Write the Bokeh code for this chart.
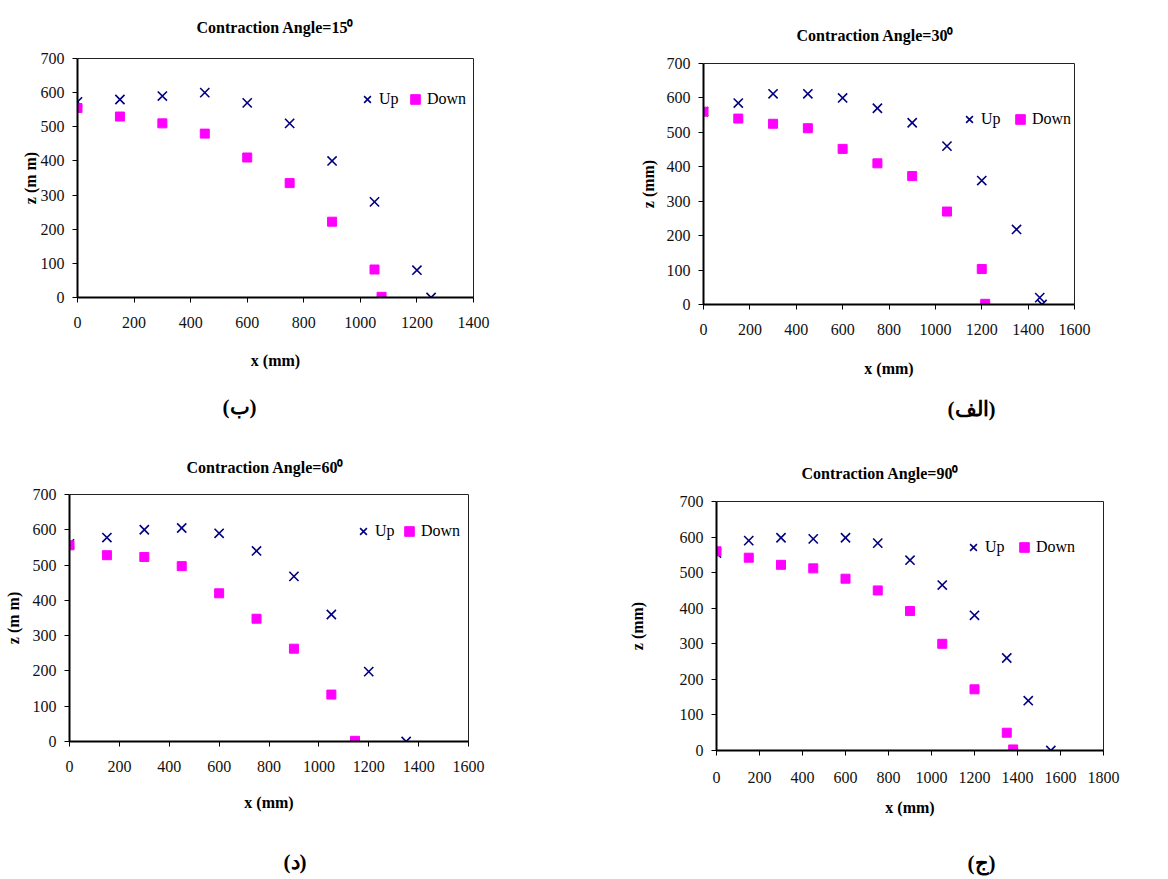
from bokeh.plotting import figure
from bokeh.layouts import column, row
from bokeh.models import (Range1d, FixedTicker, Title, Legend, LegendItem,
                          LinearAxis)
from bokeh.embed import file_html
from bokeh.resources import INLINE

# ---------------- data ----------------
# Contraction angle 15 deg  (ب)
x15_up = [0, 150, 300, 450, 600, 750, 900, 1050, 1200, 1250]
z15_up = [573, 580, 590, 600, 570, 510, 400, 280, 80, 0]
x15_down = [0, 150, 300, 450, 600, 750, 900, 1050, 1075]
z15_down = [555, 530, 510, 480, 410, 335, 222, 82, 2]

# Contraction angle 30 deg  (الف)
x30_up = [0, 150, 300, 450, 600, 750, 900, 1050, 1200, 1350, 1450, 1460]
z30_up = [560, 585, 612, 612, 600, 570, 528, 460, 360, 218, 20, 0]
x30_down = [0, 150, 300, 450, 600, 750, 900, 1050, 1200, 1215]
z30_down = [560, 540, 525, 512, 452, 410, 373, 270, 103, 2]

# Contraction angle 60 deg  (د)
x60_up = [0, 150, 300, 450, 600, 750, 900, 1050, 1200, 1350]
z60_up = [560, 578, 600, 605, 590, 540, 468, 360, 198, 0]
x60_down = [0, 150, 300, 450, 600, 750, 900, 1050, 1145]
z60_down = [556, 528, 523, 497, 420, 348, 263, 133, 2]

# Contraction angle 90 deg  (ج)
x90_up = [0, 150, 300, 450, 600, 750, 900, 1050, 1200, 1350, 1450, 1555]
z90_up = [555, 590, 598, 595, 598, 583, 535, 465, 380, 260, 140, 0]
x90_down = [0, 150, 300, 450, 600, 750, 900, 1050, 1200, 1350, 1380]
z90_down = [560, 542, 522, 512, 483, 450, 392, 300, 172, 50, 3]

titles = ["Contraction Angle=15\u2070", "Contraction Angle=30\u2070",
          "Contraction Angle=60\u2070", "Contraction Angle=90\u2070"]
tags = ["(ب)", "(الف)", "(د)", "(ج)"]
ylabels = ["z (m m)", "z (mm)", "z (m m)", "z (mm)"]
x_label = "x (mm)"
x_max = [1400, 1600, 1600, 1800]
x_ticks_step = 200
y_ticks = [0, 100, 200, 300, 400, 500, 600, 700]

SERIF = "Liberation Serif"
NAVY = "#000080"
MAGENTA = "#FF00FF"


def spacer_axis(size):
    # an axis with one white tick and no label/line: it only reserves space
    return LinearAxis(ticker=FixedTicker(ticks=[0]), axis_line_color=None,
                      major_tick_line_color="white", minor_tick_line_color=None,
                      major_tick_in=0, major_tick_out=size, minor_tick_in=0,
                      minor_tick_out=0, major_label_standoff=0,
                      major_label_text_color=None)


def panel(title, tag, ylabel, xmax, xu, zu, xd, zd, w, h, mb, title_off, top_sp,
          tag_off, bot_sp, xlab_so, ylab_so, tick_so, leg_loc, leg_sp):
    left, right, top, bottom = mb
    p = figure(width=w, height=h, output_backend="svg", toolbar_location=None,
               x_range=Range1d(0, xmax), y_range=Range1d(0, 700),
               min_border_left=left, min_border_right=right,
               min_border_top=top, min_border_bottom=bottom,
               frame_align=False)
    p.xgrid.visible = False
    p.ygrid.visible = False
    p.outline_line_color = "#222222"
    p.outline_line_width = 1
    p.background_fill_color = "white"
    p.border_fill_color = "white"

    p.xaxis.ticker = FixedTicker(ticks=list(range(0, xmax + 1, x_ticks_step)))
    p.yaxis.ticker = FixedTicker(ticks=y_ticks)
    for ax in (p.xaxis[0], p.yaxis[0]):
        ax.axis_line_width = 2
        ax.axis_line_color = "black"
        ax.major_tick_line_color = "black"
        ax.major_tick_in = 0
        ax.major_tick_out = 5
        ax.minor_tick_line_color = None
        ax.major_label_text_font = SERIF
        ax.major_label_text_font_size = "16px"
        ax.major_label_text_color = "#111111"
        ax.axis_label_text_font = SERIF
        ax.axis_label_text_font_size = "16px"
        ax.axis_label_text_font_style = "bold"
        ax.axis_label_text_color = "black"
    p.xaxis.axis_label = x_label
    p.yaxis.axis_label = ylabel
    p.xaxis.major_label_standoff = tick_so
    p.xaxis.axis_label_standoff = xlab_so
    p.yaxis.major_label_standoff = 8
    p.yaxis.axis_label_standoff = ylab_so

    r_up = p.scatter(xu, zu, marker="x", size=13, line_color=NAVY, line_width=1.6)
    r_dn = p.scatter(xd, zd, marker="square", size=9, fill_color=MAGENTA,
                     line_color=MAGENTA)

    leg = Legend(items=[LegendItem(label="Up", renderers=[r_up]),
                        LegendItem(label="Down", renderers=[r_dn])],
                 orientation="horizontal", location=leg_loc,
                 border_line_color=None, background_fill_alpha=0,
                 padding=0, margin=0, spacing=leg_sp, glyph_width=24,
                 glyph_height=24, label_standoff=0,
                 label_text_font=SERIF, label_text_font_size="16px",
                 label_text_color="black")
    p.add_layout(leg, "center")

    # title above (spacer first = nearest the frame)
    p.add_layout(spacer_axis(top_sp), "above")
    t = Title(text=title, align="left", offset=title_off,
              text_font=SERIF, text_font_size="16px", text_font_style="bold",
              text_color="black", standoff=0)
    p.add_layout(t, "above")
    # panel tag below the x axis
    p.add_layout(spacer_axis(bot_sp), "below")
    tg = Title(text=tag, align="left", offset=tag_off,
               text_font=SERIF, text_font_size="21px", text_font_style="bold",
               text_color="black", standoff=0)
    p.add_layout(tg, "below")
    return p


p1 = panel(titles[0], tags[0], ylabels[0], x_max[0], x15_up, z15_up, x15_down, z15_down,
           568, 440, (77, 95, 58, 143), 119, 23, 145, 21, 21, -1, 14, (278, 186), 4)
p2 = panel(titles[1], tags[1], ylabels[1], x_max[1], x30_up, z30_up, x30_down, z30_down,
           598, 440, (135, 92, 63, 136), 93, 20, 244, 15, 22, 7, 14, (254, 173), 7)
p3 = panel(titles[2], tags[2], ylabels[2], x_max[2], x60_up, z60_up, x60_down, z60_down,
           568, 438, (69, 100, 54, 137), 117, 19, 214, 34, 19, 8, 14, (282, 198), 2)
p4 = panel(titles[3], tags[3], ylabels[3], x_max[3], x90_up, z90_up, x90_down, z90_down,
           598, 438, (148, 63, 61, 128), 85, 20, 251, 30, 13, 31, 16, (245, 191), 7)

layout = column(row(p1, p2), row(p3, p4))

with open("out.html", "w") as f:
    f.write(file_html(layout, INLINE))
